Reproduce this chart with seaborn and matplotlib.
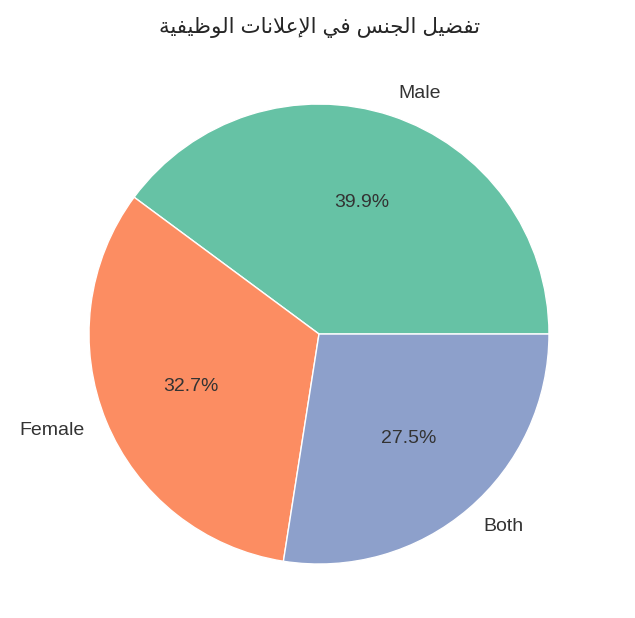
import matplotlib
matplotlib.use("Agg")
import matplotlib.pyplot as plt
import seaborn as sns

categories = ["Male", "Female", "Both"]
percentages = [39.9, 32.7, 27.5]

# Title "تفضيل الجنس في الإعلانات الوظيفية" in shaped presentation forms (logical order)
title_codes = [
    0xFE97, 0xFED4, 0xFEC0, 0xFEF4, 0xFEDE, 0x20,
    0xFE8D, 0xFEDF, 0xFEA0, 0xFEE8, 0xFEB2, 0x20,
    0xFED3, 0xFEF2, 0x20,
    0xFE8D, 0xFEF9, 0xFECB, 0xFEFC, 0xFEE7, 0xFE8E, 0xFE95, 0x20,
    0xFE8D, 0xFEDF, 0xFEEE, 0xFEC7, 0xFEF4, 0xFED4, 0xFEF4, 0xFE94,
]
title_text = "".join(chr(c) for c in title_codes)[::-1]

sns.set_theme(style="whitegrid")
plt.rcParams["font.family"] = ["Liberation Sans", "DejaVu Sans"]

colors = sns.color_palette("Set2", 3)

fig = plt.figure(figsize=(6.35, 6.18), dpi=100)
ax = fig.add_axes([0.0496, -0.0057, 0.9055, 0.9304])
wedges, texts, autotexts = ax.pie(
    percentages, labels=categories, colors=colors, autopct="%1.1f%%",
    startangle=0, wedgeprops=dict(edgecolor="white", linewidth=1),
    textprops=dict(fontsize=14, color="0.2"),
)
ax.set_aspect("equal")
fig.text(320 / 635, 1 - 28 / 618, title_text, ha="center", va="center",
         fontsize=15.4, color="0.15", family=["Liberation Sans", "DejaVu Sans"])
fig.savefig("out.png", dpi=100)
